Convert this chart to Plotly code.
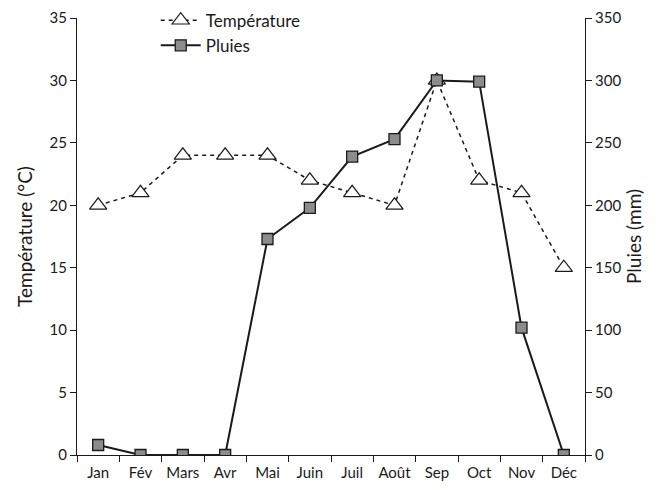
import plotly.graph_objects as go

mois = ["Jan", "Fév", "Mars", "Avr", "Mai", "Juin", "Juil", "Août", "Sep", "Oct", "Nov", "Déc"]
temperature = [20, 21, 24, 24, 24, 22, 21, 20, 30, 22, 21, 15]
pluies = [8, 0, 0, 0, 173, 198, 239, 253, 300, 299, 102, 0]

police = "Lato, Open Sans, sans-serif"
encre = "#1a1a1a"

fig = go.Figure()

fig.add_trace(go.Scatter(
    x=mois, y=temperature, name="Température", mode="lines+markers",
    line=dict(color=encre, width=1.5, dash="4px,4px"),
    marker=dict(symbol="triangle-up", size=15, color="white",
                line=dict(color=encre, width=1.2)),
    yaxis="y",
))

fig.add_trace(go.Scatter(
    x=mois, y=pluies, name="Pluies", mode="lines+markers",
    line=dict(color=encre, width=2),
    marker=dict(symbol="square", size=11, color="#8c8c8c",
                line=dict(color=encre, width=1.3)),
    yaxis="y2",
))

axe = dict(showgrid=False, zeroline=False, showline=True, linecolor=encre,
           linewidth=1.2, ticks="outside", ticklen=6, tickcolor=encre,
           tickfont=dict(family=police, size=15, color=encre))

fig.update_layout(
    width=658, height=490,
    margin=dict(l=77, r=73, t=18, b=35, autoexpand=False),
    paper_bgcolor="white", plot_bgcolor="white",
    font=dict(family=police, color=encre),
    showlegend=True,
    legend=dict(x=0.155, y=1.035, xanchor="left", yanchor="top",
                bgcolor="rgba(0,0,0,0)", font=dict(family=police, size=17),
                tracegroupgap=0, itemwidth=40),
    xaxis=dict(**axe, type="category", tickmode="array", tickvals=mois,
               range=[-0.5, 11.5], ticklabelstandoff=4),
    yaxis=dict(**axe, range=[0, 35], dtick=5,
               title=dict(text="Température (°C)", font=dict(family=police, size=19), standoff=11)),
    yaxis2=dict(**axe, range=[0, 350], dtick=50, overlaying="y", side="right",
                title=dict(text="Pluies (mm)", font=dict(family=police, size=19), standoff=5)),
)

# tick marks between categories on the x axis
fig.update_xaxes(tickson="boundaries")

fig.write_html("out.html")
